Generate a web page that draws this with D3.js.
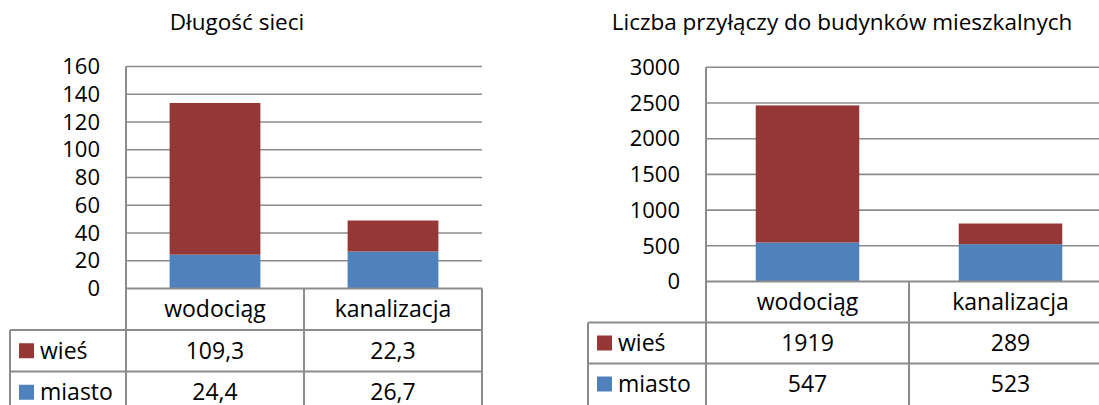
<!DOCTYPE html>
<html>
<head>
<meta charset="utf-8">
<script src="https://cdn.jsdelivr.net/npm/d3@7"></script>
<style>
  body { margin: 0; background: #fff; }
  svg { font-family: "Open Sans", sans-serif; }
</style>
</head>
<body>
<div id="chart"></div>
<script>
// data
const categories = ['wodociąg', 'kanalizacja']
const seriesNames = ['miasto', 'wieś']
const lenMiasto = [24.4, 26.7]
const lenWies = [109.3, 22.3]
const lenLabelsMiasto = ['24,4', '26,7']
const lenLabelsWies = ['109,3', '22,3']
const lenTicks = [0, 20, 40, 60, 80, 100, 120, 140, 160]
const conMiasto = [547, 523]
const conWies = [1919, 289]
const conTicks = [0, 500, 1000, 1500, 2000, 2500, 3000]

const colors = { 'miasto': '#4f81bd', 'wieś': '#953735' }
const grid = '#8c8c8c'

let svg = d3.select('#chart').append('svg')
    .attr('width', 1099)
    .attr('height', 405)

function drawChart(opts) {
    let g = svg.append('g')
    // scales
    let x = d3.scaleBand().domain(categories)
        .range([opts.left, opts.left + opts.band * 2])
        .paddingInner(0).paddingOuter(0)
    let y = d3.scaleLinear().domain([0, opts.max])
        .range([opts.bottom, opts.top])

    g.append('text')
        .attr('x', opts.titleX).attr('y', 30)
        .attr('text-anchor', 'middle')
        .style('font-size', '22.5px')
        .attr('fill', '#000')
        .text(opts.title)

    // gridlines
    g.selectAll('.gl').data(opts.ticks.slice(1)).enter().append('line')
        .attr('x1', opts.left).attr('x2', opts.left + opts.band * 2)
        .attr('y1', d => y(d)).attr('y2', d => y(d))
        .attr('stroke', grid).attr('stroke-width', 1.6)

    // tick labels
    g.selectAll('.tl').data(opts.ticks).enter().append('text')
        .attr('x', opts.left - 26)
        .attr('y', d => y(d))
        .attr('dy', '0.35em')
        .attr('text-anchor', 'end')
        .style('font-size', '22px')
        .text(d => d)

    // stacked bars
    let rows = categories.map((c, i) => ({ cat: c, 'miasto': opts.miasto[i], 'wieś': opts.wies[i] }))
    let stack = d3.stack().keys(seriesNames)(rows)
    let bw = opts.band * 0.51
    stack.forEach(layer => {
        g.selectAll(null).data(layer).enter().append('rect')
            .attr('x', d => x(d.data.cat) + (opts.band - bw) / 2)
            .attr('width', bw)
            .attr('y', d => y(d[1]))
            .attr('height', d => y(d[0]) - y(d[1]))
            .attr('fill', colors[layer.key])
    })

    // table
    let rh = opts.rowH
    let right = opts.left + opts.band * 2
    let tb = g.append('g')
        .attr('stroke', grid).attr('stroke-width', 2)
    // vertical axis line
    tb.append('line').attr('x1', opts.left).attr('x2', opts.left)
        .attr('y1', opts.top).attr('y2', 405)
    tb.append('line').attr('x1', opts.tableLeft).attr('x2', opts.tableLeft)
        .attr('y1', opts.bottom + rh).attr('y2', 405)
    tb.append('line').attr('x1', x(categories[1])).attr('x2', x(categories[1]))
        .attr('y1', opts.bottom).attr('y2', 405)
    tb.append('line').attr('x1', right).attr('x2', right)
        .attr('y1', opts.bottom).attr('y2', 405)
    tb.append('line').attr('x1', opts.left).attr('x2', right)
        .attr('y1', opts.bottom).attr('y2', opts.bottom)
    ;[1, 2].forEach(k => {
        tb.append('line').attr('x1', opts.tableLeft).attr('x2', right)
            .attr('y1', opts.bottom + rh * k).attr('y2', opts.bottom + rh * k)
    })

    // header
    g.selectAll('.cl').data(categories).enter().append('text')
        .attr('x', d => x(d) + opts.band / 2)
        .attr('y', opts.bottom + rh / 2)
        .attr('dy', '0.35em')
        .attr('text-anchor', 'middle')
        .style('font-size', '23px')
        .text(d => d)

    // legend rows
    let tableRows = [
        { name: 'wieś', labels: opts.wiesLabels },
        { name: 'miasto', labels: opts.miastoLabels }
    ]
    tableRows.forEach((r, k) => {
        let cy = opts.bottom + rh * (k + 1) + rh / 2
        g.append('rect')
            .attr('x', opts.tableLeft + 9).attr('y', cy - 7.5)
            .attr('width', 15).attr('height', 15)
            .attr('fill', colors[r.name])
        g.append('text')
            .attr('x', opts.tableLeft + 30).attr('y', cy)
            .attr('dy', '0.35em')
            .style('font-size', '23px')
            .text(r.name)
        g.selectAll(null).data(r.labels).enter().append('text')
            .attr('x', (d, i) => x(categories[i]) + opts.band / 2)
            .attr('y', cy)
            .attr('dy', '0.35em')
            .attr('text-anchor', 'middle')
            .style('font-size', '23px')
            .text(d => d)
    })
}

drawChart({
    title: 'Długość sieci', titleX: 237,
    left: 126, band: 178, top: 66.5, bottom: 288.5, max: 160,
    ticks: lenTicks, miasto: lenMiasto, wies: lenWies,
    miastoLabels: lenLabelsMiasto, wiesLabels: lenLabelsWies,
    tableLeft: 10, rowH: 41.5
})
drawChart({
    title: 'Liczba przyłączy do budynków mieszkalnych', titleX: 842,
    left: 706, band: 203, top: 67.3, bottom: 281.5, max: 3000,
    ticks: conTicks, miasto: conMiasto, wies: conWies,
    miastoLabels: conMiasto.map(String), wiesLabels: conWies.map(String),
    tableLeft: 588, rowH: 41
})
</script>
</body>
</html>
